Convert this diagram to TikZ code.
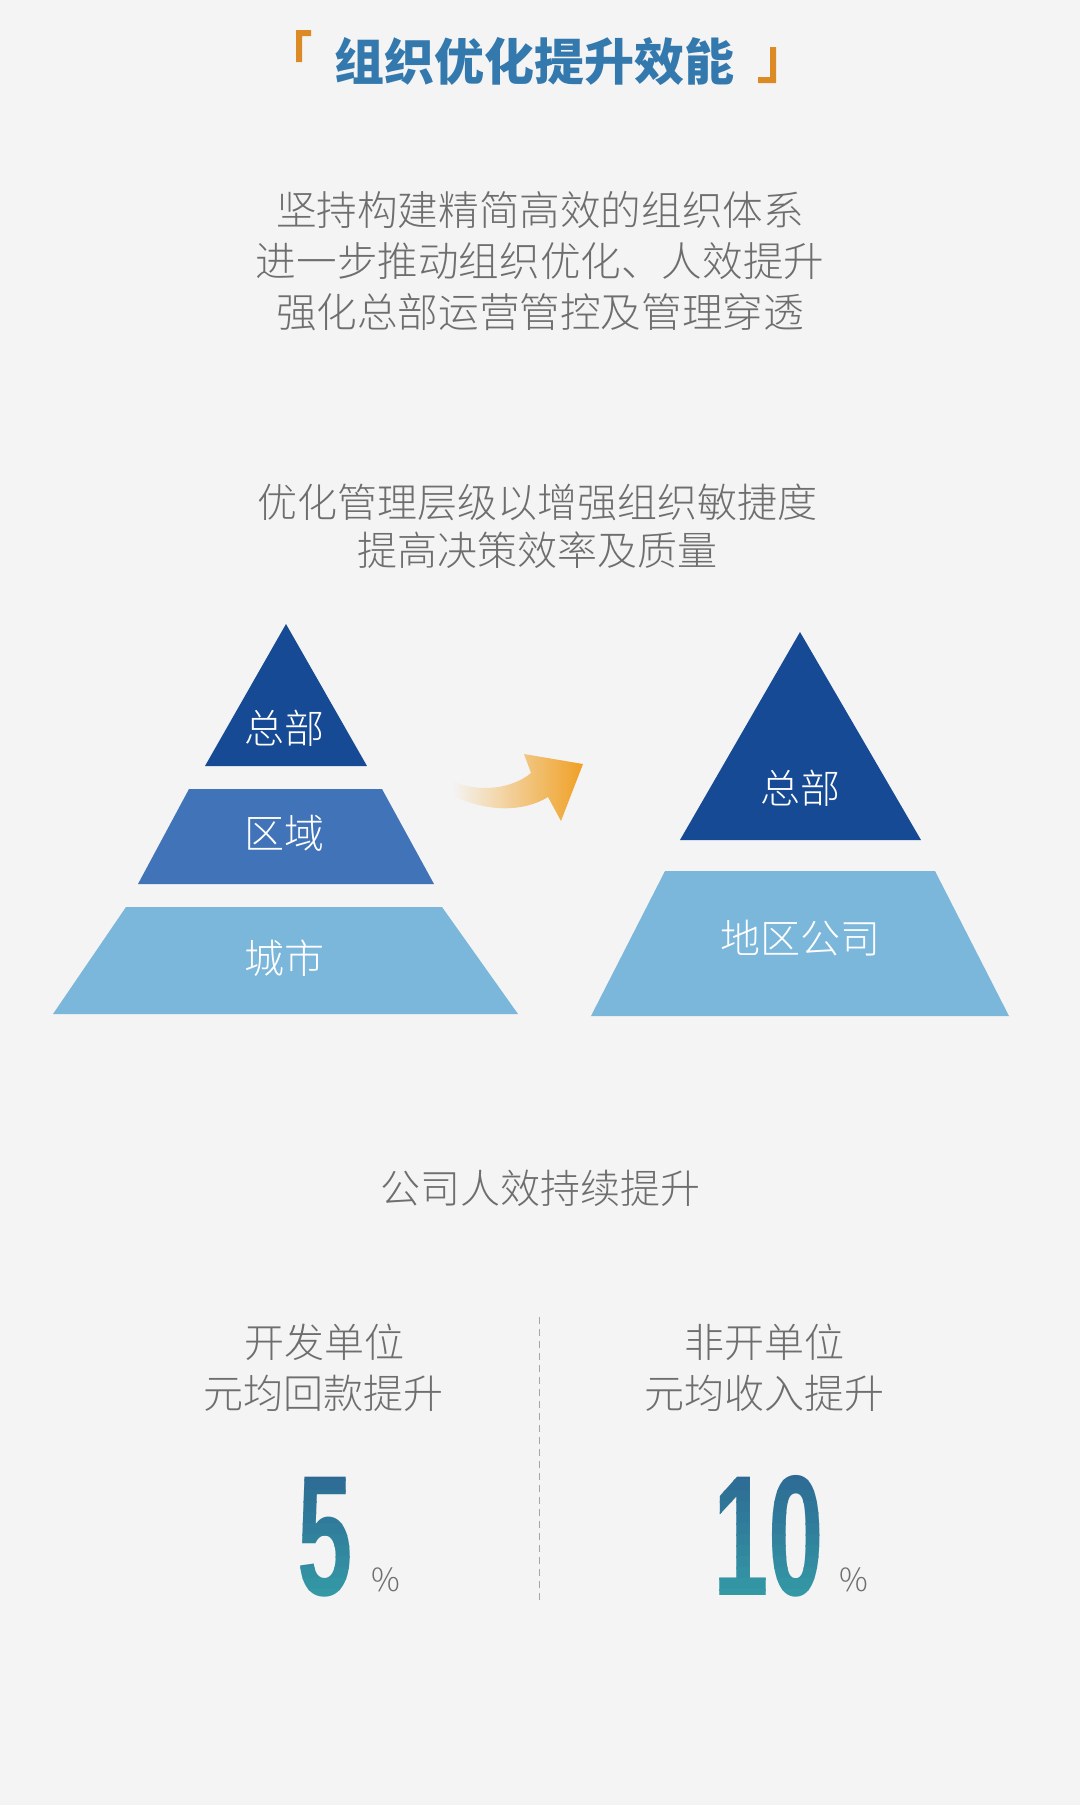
\documentclass[tikz,border=0pt]{standalone}
\usepackage{fontspec}
\usepackage{tikz}
\newfontfamily\cjk{Noto Sans CJK SC}
\newfontfamily\cjklt{Noto Sans CJK SC Light}
\newfontfamily\numfont{Liberation Sans}
\definecolor{bg}{HTML}{F4F4F4}
\definecolor{titleblue}{HTML}{3479AE}
\definecolor{bracket}{HTML}{DC8A26}
\definecolor{txtgray}{HTML}{6E6E6E}
\definecolor{darkblue}{HTML}{164A94}
\definecolor{midblue}{HTML}{4073B7}
\definecolor{lightblue}{HTML}{7BB6DB}
\definecolor{arroworange}{HTML}{F0A024}
\definecolor{numtop}{HTML}{2D6993}
\definecolor{numbot}{HTML}{3499A5}
\tikzset{
  titletxt/.style={text=titleblue, font=\cjk\bfseries\fontsize{25}{30}\selectfont, inner sep=0pt},
  bigtxt/.style={text=txtgray, font=\cjklt\fontsize{20.3}{24}\selectfont, inner sep=0pt},
  graytxt/.style={text=txtgray, font=\cjklt\fontsize{20}{24}\selectfont, inner sep=0pt},
  pylabel/.style={text=white, font=\cjklt\fontsize{20}{24}\selectfont, inner sep=0pt},
  bignum/.style={font=\numfont\bfseries\fontsize{86}{86}\selectfont, xscale=0.58, inner sep=0pt, anchor=base},
  pct/.style={text=txtgray, font=\cjklt\fontsize{16}{20}\selectfont, inner sep=0pt, anchor=base west}
}
\begin{document}
\begin{tikzpicture}[x=0.5pt,y=-0.5pt]
\fill[bg] (0,0) rectangle (1080,1805);
% title
\node[titletxt] (title) at (534,61) {组织优化提升效能};
\fill[bracket] (296,30) -- (311,30) -- (311,36) -- (302,36) -- (302,62) -- (296,62) -- cycle;
\fill[bracket] (770,47) -- (776,47) -- (776,83) -- (758,83) -- (758,77) -- (770,77) -- cycle;
% first block
\node[bigtxt] (aims1) at (540,210) {坚持构建精简高效的组织体系};
\node[bigtxt] (aims2) at (540,261) {进一步推动组织优化、人效提升};
\node[bigtxt] (aims3) at (540,312) {强化总部运营管控及管理穿透};
\node[graytxt] (layer1) at (537,502) {优化管理层级以增强组织敏捷度};
\node[graytxt] (layer2) at (537,550) {提高决策效率及质量};
% left pyramid
\fill[darkblue] (286,624) -- (367,766) -- (205,766) -- cycle;
\fill[midblue] (189,789) -- (382,789) -- (434,884) -- (138,884) -- cycle;
\fill[lightblue] (126,907) -- (442,907) -- (518,1014) -- (53,1014) -- cycle;
\node[pylabel] (hqold) at (284,728) {总部};
\node[pylabel] (region) at (284,833) {区域};
\node[pylabel] (city) at (284,958) {城市};
% arrow
\shade[left color=bg, right color=arroworange] (452,781) .. controls (478,793) and (512,789) .. (531,773)
  -- (524,754) -- (583,764) -- (561,821) -- (548,797) .. controls (522,813) and (486,811) .. (456,797) -- cycle;
% right pyramid
\fill[darkblue] (800,632) -- (921,840) -- (680,840) -- cycle;
\fill[lightblue] (665,871) -- (935,871) -- (1009,1016) -- (591,1016) -- cycle;
\node[pylabel] (hqnew) at (800,788) {总部};
\node[pylabel] (branch) at (800,938) {地区公司};
% bottom
\node[graytxt] (effic) at (540,1188) {公司人效持续提升};
\node[graytxt] (dev1) at (324,1342) {开发单位};
\node[graytxt] (dev2) at (323,1393) {元均回款提升};
\node[graytxt] (non1) at (764,1342) {非开单位};
\node[graytxt] (non2) at (764,1393) {元均收入提升};
\coordinate (divtop) at (539,1317);
\coordinate (divbot) at (539,1600);
\draw[gray!70, line width=0.5pt, dash pattern=on 3.5pt off 2.5pt] (divtop) -- (divbot);
\foreach \i [evaluate=\i as \p using {int(100-\i*9)}] in {0,...,11} {
  \begin{scope}
    \clip (280,1468+\i*11) rectangle (880,1480+\i*11);
    \node[bignum, text=numtop!\p!numbot] (five\i) at (325.5,1595) {5};
    \node[bignum, text=numtop!\p!numbot] (ten\i) at (769,1595) {10};
  \end{scope}
}
\node[pct] (pct5) at (371,1591) {\%};
\node[pct] (pct10) at (839,1591) {\%};
\end{tikzpicture}
\end{document}
